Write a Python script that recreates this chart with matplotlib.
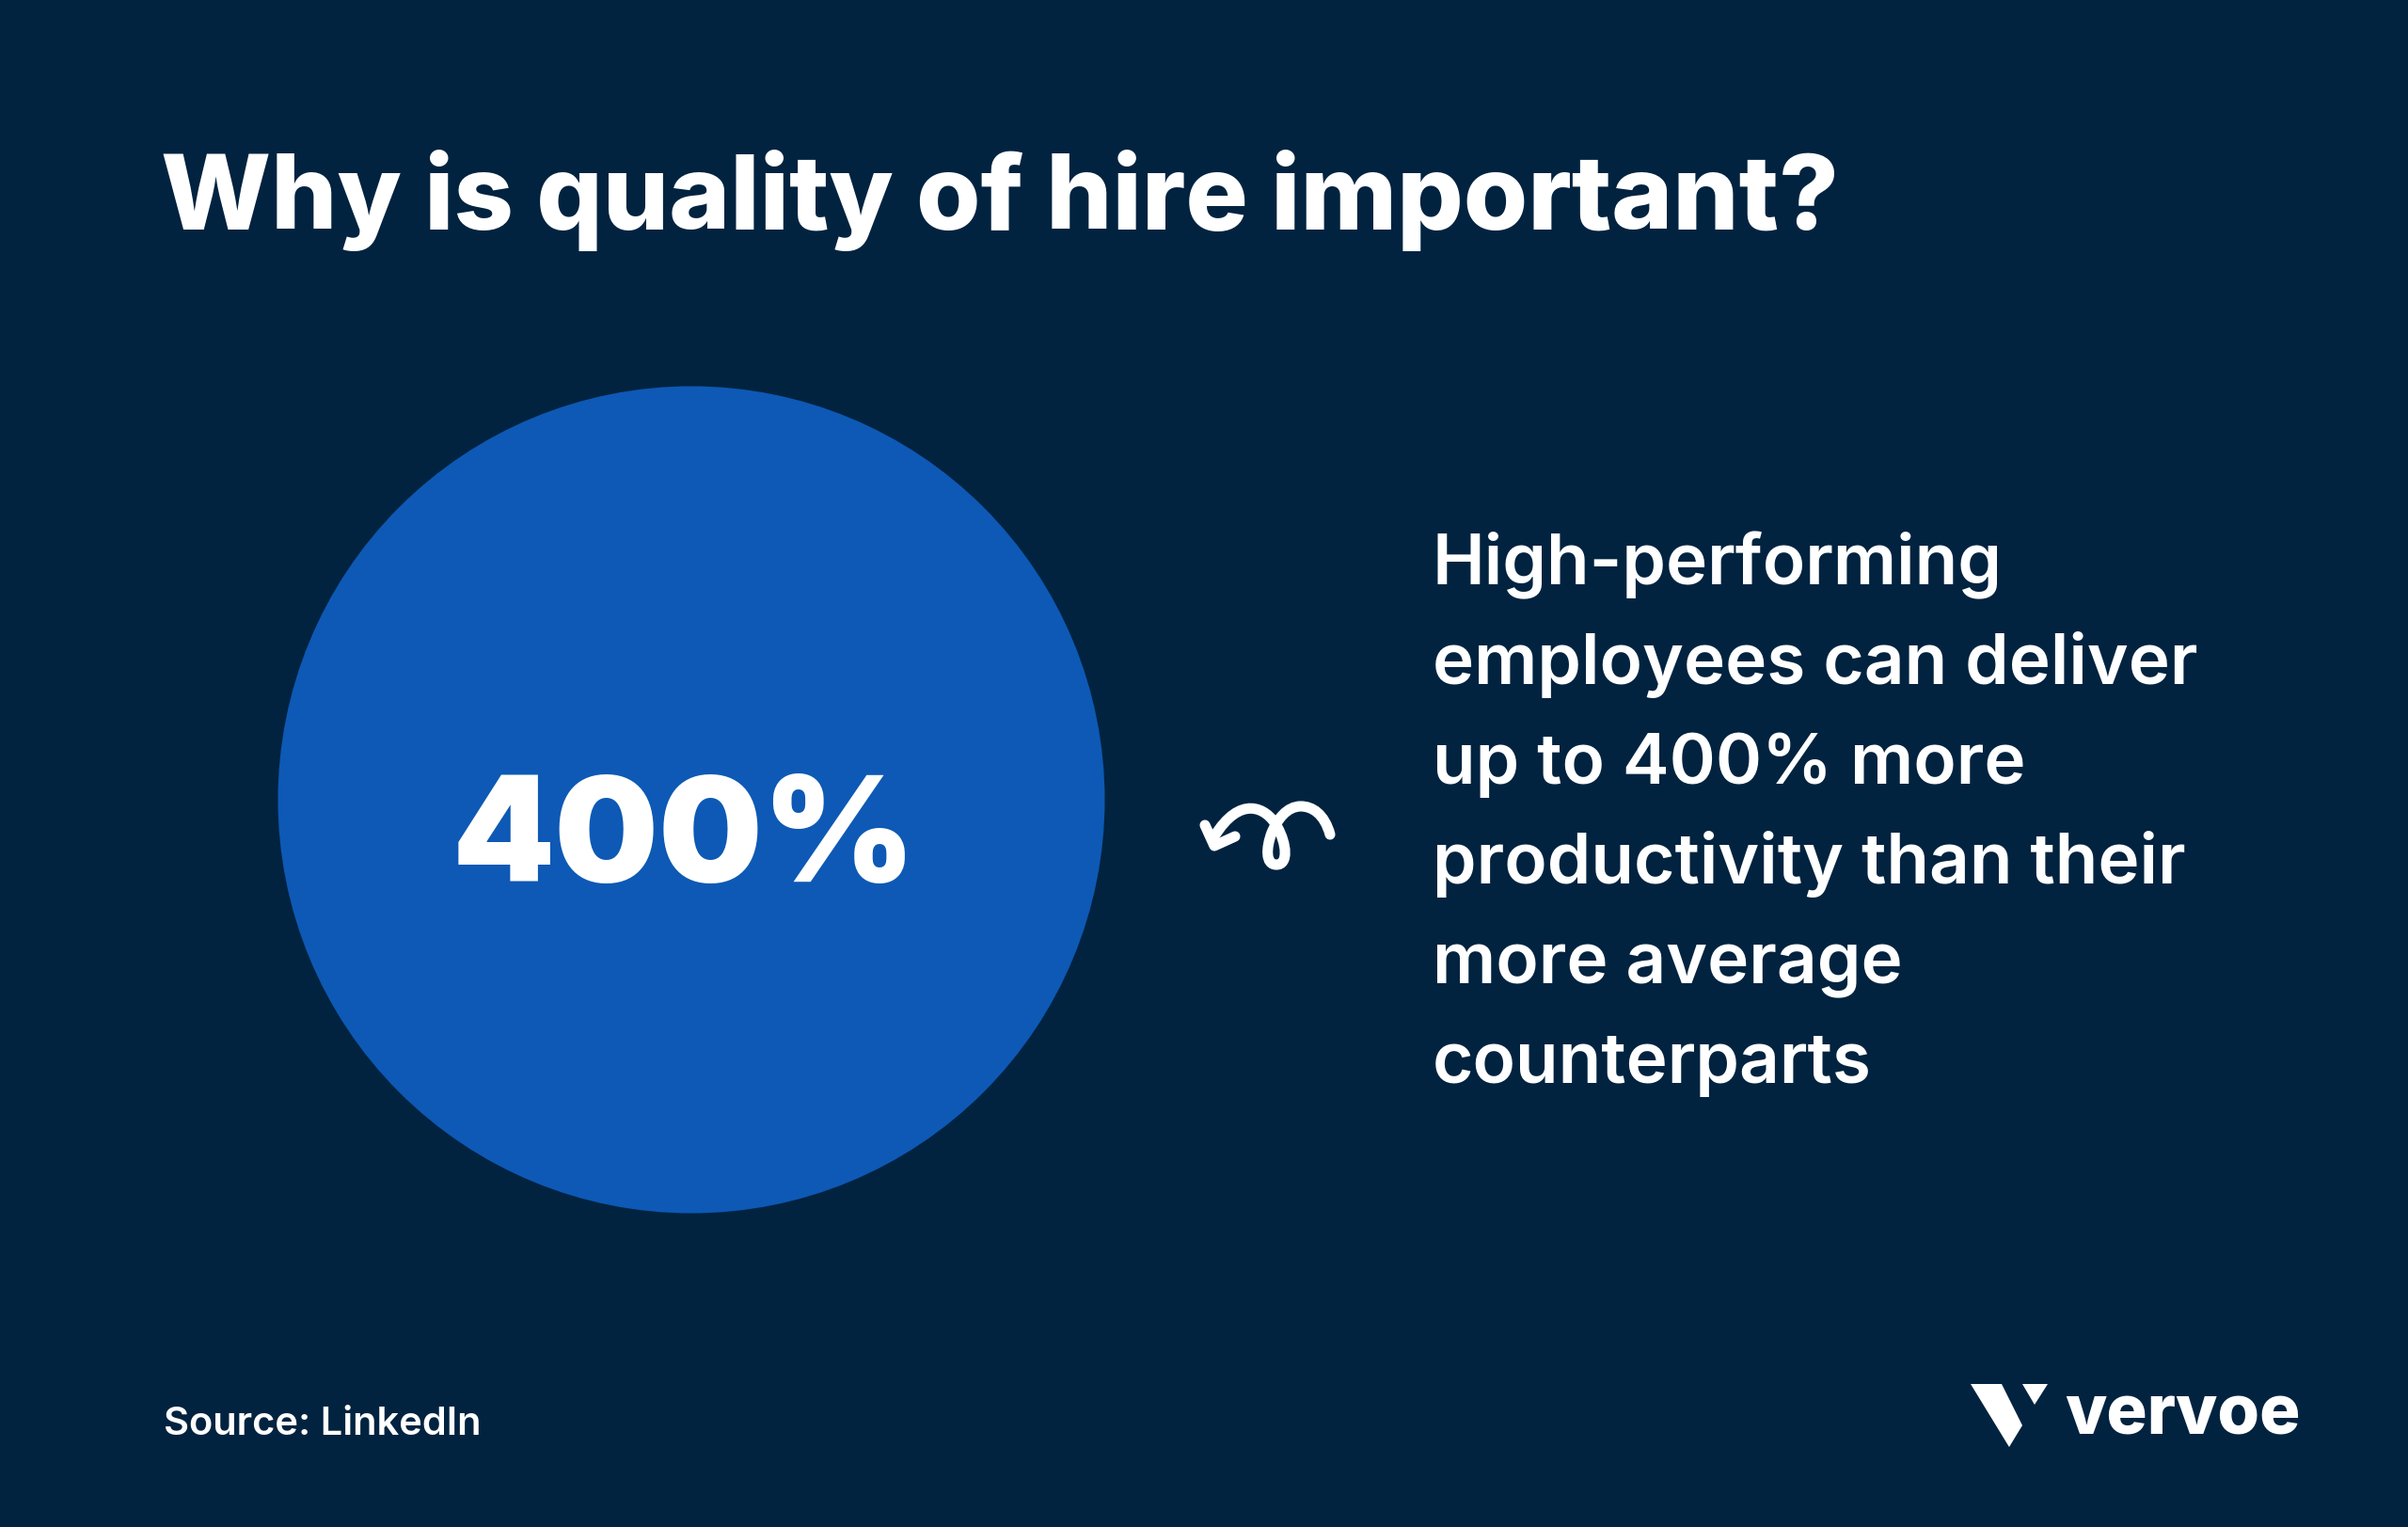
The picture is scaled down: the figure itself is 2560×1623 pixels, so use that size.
"""Why is quality of hire important? infographic card."""

import matplotlib.pyplot as plt
from matplotlib.patches import Circle, PathPatch, Polygon
from matplotlib.path import Path

BG = "#012340"
BLUE = "#0d59b5"
WHITE = "#ffffff"

title = "Why is quality of hire important?"
stat_label = "400%"
body_lines = [
    "High-performing",
    "employees can deliver",
    "up to 400% more",
    "productivity than their",
    "more average",
    "counterparts",
]
source = "Source: LinkedIn"
brand = "vervoe"

plt.rcParams["font.family"] = ["Inter", "DejaVu Sans"]

fig = plt.figure(figsize=(25.6, 16.24), dpi=100, facecolor=BG)
ax = fig.add_axes([0, 0, 1, 1])
ax.set_xlim(0, 2560)
ax.set_ylim(1624, 0)
ax.axis("off")

ax.text(171, 244, title, color=WHITE, fontsize=79.7, fontweight="heavy", va="baseline")

# Big circle
ax.add_patch(Circle((735, 851), 439.5, fc=BLUE, ec="none"))
ax.text(727, 937, stat_label, color=WHITE, fontsize=112, fontweight="black",
        ha="center", va="baseline")

# Body copy
for i, line in enumerate(body_lines):
    ax.text(1523, 621 + i * 106, line, color=WHITE, fontsize=53.8, fontweight="semibold",
            va="baseline")

# Curly arrow
codes = [Path.MOVETO] + [Path.CURVE4] * 15
verts = [
    (1414, 888), (1408, 866), (1395, 858), (1383, 858),
    (1368, 858), (1358, 872), (1352, 886),
    (1346, 902), (1345, 920), (1357, 920),
    (1370, 920), (1368, 898), (1358, 880),
    (1346, 858), (1318, 846), (1291, 890),
]
ax.add_patch(PathPatch(Path(verts, codes), fc="none", ec=WHITE, lw=8, capstyle="round"))
ax.plot([1281, 1291, 1313], [878, 900, 890], color=WHITE, lw=8,
        solid_capstyle="round", solid_joinstyle="round")

# Logo
ax.add_patch(Polygon([(2095, 1472), (2128, 1472), (2150, 1516), (2136, 1539)], fc=WHITE, ec="none"))
ax.add_patch(Polygon([(2150, 1472), (2177, 1472), (2163, 1494)], fc=WHITE, ec="none"))
ax.text(2195, 1525, brand, color=WHITE, fontsize=52, fontweight="heavy", va="baseline")

ax.text(174, 1525, source, color=WHITE, fontsize=30, fontweight="semibold", va="baseline")

fig.savefig("out.png", dpi=100, facecolor=BG)
